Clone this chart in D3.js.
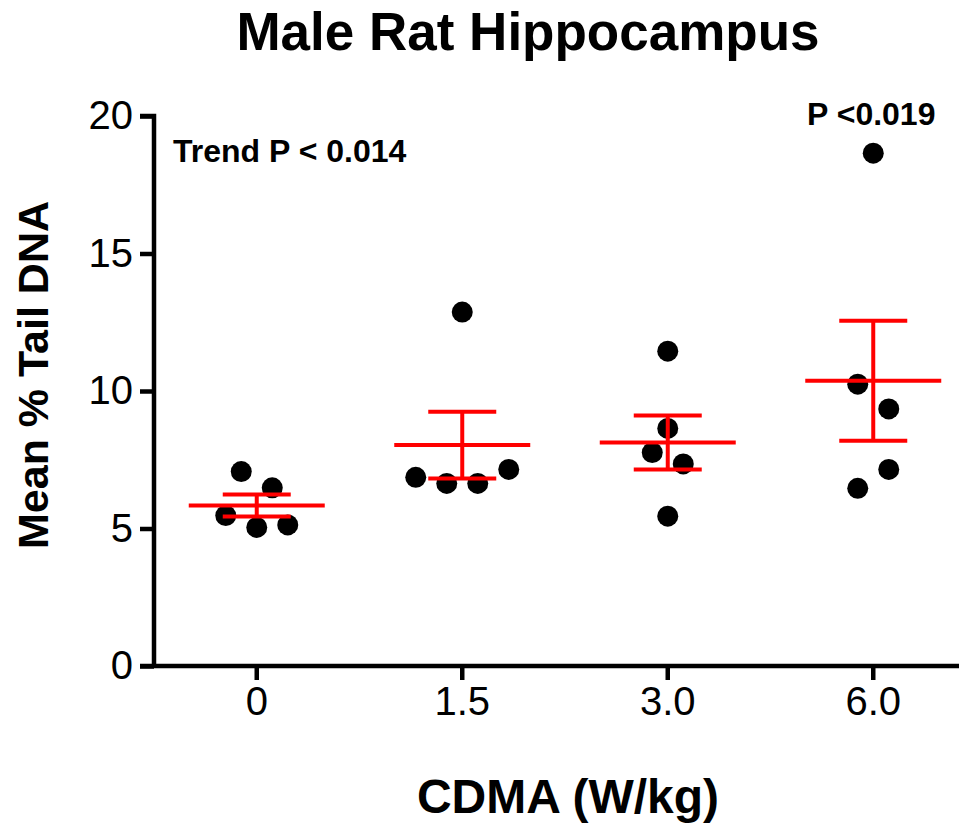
<!DOCTYPE html>
<html>
<head>
<meta charset="utf-8">
<script src="https://cdn.jsdelivr.net/npm/d3@7"></script>
<style>
  body { margin: 0; background: #fff; }
  text { font-family: Arial, "Liberation Sans", sans-serif; }
</style>
</head>
<body>
<div id="chart"></div>
<script>
  // Comet assay, male rat hippocampus, individual animals per dose group
  const doses = ["0", "1.5", "3.0", "6.0"];
  const tail0  = [7.07, 6.48, 5.47, 5.04, 5.13];
  const tail15 = [6.86, 6.64, 6.64, 7.15, 12.87];
  const tail30 = [11.45, 8.64, 7.76, 7.35, 5.45];
  const tail60 = [10.25, 9.35, 7.15, 6.46, 18.65];
  // horizontal spread slot of each dot (in half-dot steps), like the scatter layout
  const slots0  = [-1, 1, -2, 0, 2];
  const slots15 = [-3, -1, 1, 3, 0];
  const slots30 = [0, 0, -1, 1, 0];
  const slots60 = [-1, 1, 1, -1, 0];
  const yTicks = [0, 5, 10, 15, 20];

  const groups = [
    { dose: doses[0], vals: tail0,  slots: slots0 },
    { dose: doses[1], vals: tail15, slots: slots15 },
    { dose: doses[2], vals: tail30, slots: slots30 },
    { dose: doses[3], vals: tail60, slots: slots60 }
  ];
  groups.forEach(g => {
    g.mean = d3.mean(g.vals);
    g.sem = d3.deviation(g.vals) / Math.sqrt(g.vals.length);
  });

  const width = 959, height = 824;
  const axisX = 154, axisY = 666, topY = 116;

  const svg = d3.select("#chart").append("svg")
    .attr("width", width).attr("height", height);

  const x = d3.scaleBand().domain(doses).range([axisX, axisX + 4 * 205.5]).padding(0);
  const cx = d => x(d) + x.bandwidth() / 2;
  const y = d3.scaleLinear().domain([0, 20]).range([axisY, topY]);
  const spread = d3.scaleLinear().domain([0, 1]).range([0, 15.5]);

  // DOTS
  const pts = groups.flatMap(g => g.vals.map((v, i) => ({ dose: g.dose, v, s: g.slots[i] })));
  svg.append("g").selectAll("circle").data(pts).join("circle")
    .attr("cx", d => cx(d.dose) + spread(d.s))
    .attr("cy", d => y(d.v))
    .attr("r", 10.5)
    .style("fill", "#000");

  // MEAN +/- SEM
  const red = "#ff0000";
  const eb = svg.append("g").selectAll("g").data(groups).join("g")
    .style("stroke", red).style("stroke-width", 4);
  eb.append("line")
    .attr("x1", d => cx(d.dose)).attr("x2", d => cx(d.dose))
    .attr("y1", d => y(d.mean - d.sem)).attr("y2", d => y(d.mean + d.sem));
  eb.append("line")
    .attr("x1", d => cx(d.dose) - 34).attr("x2", d => cx(d.dose) + 34)
    .attr("y1", d => y(d.mean + d.sem)).attr("y2", d => y(d.mean + d.sem));
  eb.append("line")
    .attr("x1", d => cx(d.dose) - 34).attr("x2", d => cx(d.dose) + 34)
    .attr("y1", d => y(d.mean - d.sem)).attr("y2", d => y(d.mean - d.sem));
  eb.append("line")
    .attr("x1", d => cx(d.dose) - 68).attr("x2", d => cx(d.dose) + 68)
    .attr("y1", d => y(d.mean)).attr("y2", d => y(d.mean));

  // AXES
  const yAxis = svg.append("g")
    .attr("transform", `translate(${axisX},0)`)
    .call(d3.axisLeft(y).tickValues(yTicks).tickSize(14).tickSizeOuter(0).tickPadding(7));
  const xAxis = svg.append("g")
    .attr("transform", `translate(0,${axisY})`)
    .call(d3.axisBottom(x).tickSize(14).tickSizeOuter(0).tickPadding(14));
  xAxis.select(".domain").attr("d", `M${axisX - 14},0H${width + 10}`);
  [yAxis, xAxis].forEach(a => {
    a.select(".domain").style("stroke", "#000").style("stroke-width", 4.5);
    a.selectAll(".tick line").style("stroke", "#000").style("stroke-width", 4.5);
    a.selectAll(".tick text")
      .style("font-family", "Arial, 'Liberation Sans', sans-serif")
      .style("font-size", "40px").style("fill", "#000");
  });
  yAxis.select(".domain").attr("d", `M0,${axisY}V${topY}H-14`);
  xAxis.selectAll(".tick text").attr("dy", "0.71em").attr("y", 21);

  // TEXTS
  svg.append("text")
    .attr("x", 528).attr("y", 50)
    .attr("text-anchor", "middle")
    .style("font-size", "53px").style("font-weight", "bold")
    .text("Male Rat Hippocampus");

  svg.append("text")
    .attr("x", 568).attr("y", 813)
    .attr("text-anchor", "middle")
    .style("font-size", "48px").style("font-weight", "bold")
    .text("CDMA (W/kg)");

  svg.append("text")
    .attr("transform", "translate(48,375) rotate(-90)")
    .attr("text-anchor", "middle")
    .style("font-size", "43px").style("font-weight", "bold")
    .text("Mean % Tail DNA");

  svg.append("text")
    .attr("x", 173).attr("y", 162)
    .style("font-size", "32px").style("font-weight", "bold")
    .text("Trend P < 0.014");

  svg.append("text")
    .attr("x", cx(doses[3]) - 2).attr("y", 125)
    .attr("text-anchor", "middle")
    .style("font-size", "32px").style("font-weight", "bold")
    .text("P <0.019");
</script>
</body>
</html>
